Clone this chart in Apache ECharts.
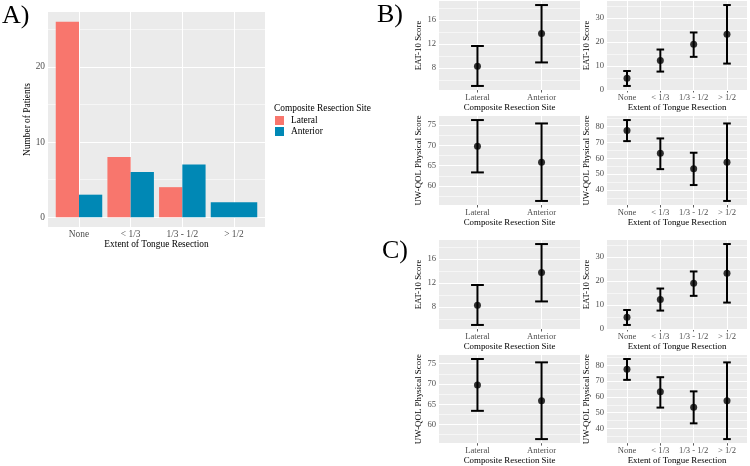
<!DOCTYPE html>
<html>
<head>
<meta charset="utf-8">
<script src="https://cdn.jsdelivr.net/npm/echarts@6/dist/echarts.min.js"></script>
<style>html,body{margin:0;padding:0;background:#fff}#chart{width:750px;height:466px}</style>
</head>
<body>
<div id="chart"></div>
<script>
// ---------- data ----------
const extentCats = ['None', '< 1/3', '1/3 - 1/2', '> 1/2'];
const siteCats = ['Lateral', 'Anterior'];
const seriesNames = ['Lateral', 'Anterior'];

const lateralCounts = [26, 8, 4, null];
const anteriorCounts = [3, 6, 7, 2];
const countTicks = [0, 10, 20];
const countMinor = [5, 15, 25];

const eatSiteMean = [8.34, 13.77];
const eatSiteLow = [5.05, 8.96];
const eatSiteHigh = [11.69, 18.5];
const eatSiteTicks = [8, 12, 16];
const eatSiteMinor = [6, 10, 14, 18];

const eatExtMean = [4.85, 12.26, 19.1, 23.26];
const eatExtLow = [1.67, 7.66, 13.8, 11.0];
const eatExtHigh = [7.9, 16.86, 23.97, 35.4];
const eatExtTicks = [0, 10, 20, 30];
const eatExtMinor = [5, 15, 25, 35];

const uwSiteMean = [69.75, 65.83];
const uwSiteLow = [63.37, 56.4];
const uwSiteHigh = [76.16, 75.33];
const uwSiteTicks = [60, 65, 70, 75];
const uwSiteMinor = [57.5, 62.5, 67.5, 72.5];

const uwExtMean = [77.47, 63.2, 53.4, 57.5];
const uwExtLow = [70.8, 53.2, 43.2, 33.2];
const uwExtHigh = [84.05, 72.5, 63.5, 81.9];
const uwExtTicks = [40, 50, 60, 70, 80];
const uwExtMinor = [35, 45, 55, 65, 75, 85];

// ---------- styling ----------
const FONT = 'Liberation Serif';
const BG = '#EBEBEB';
const TICKCOL = '#4D4D4D';
const colors = ['#F8766D', '#0088B5'];

const grids = [];
const xAxes = [];
const yAxes = [];
const series = [];

function gridLines(gi, xs, ys, yMinor) {
  const data = [];
  ys.forEach(v => data.push({yAxis: v, lineStyle: {width: 1.1}}));
  yMinor.forEach(v => data.push({yAxis: v, lineStyle: {width: 0.55}}));
  xs.forEach(v => data.push({xAxis: v, lineStyle: {width: 1.1}}));
  series.push({
    type: 'line', xAxisIndex: gi, yAxisIndex: gi, data: [], z: 1, silent: true,
    markLine: {
      z: 1, silent: true, symbol: ['none', 'none'], label: {show: false}, animation: false,
      lineStyle: {color: '#FFFFFF', type: 'solid'}, emphasis: {disabled: true},
      data: data
    }
  });
}

function xAxisDef(gi, cats, name, fs, nfs, nameGap) {
  const idx = cats.map((c, i) => i);
  return {
    type: 'value', gridIndex: gi, min: -0.6, max: cats.length - 0.4,
    axisLine: {show: false}, splitLine: {show: false},
    axisTick: {show: true, customValues: idx, length: 2.5, lineStyle: {color: '#333', width: 0.8}},
    axisLabel: {customValues: idx, formatter: v => cats[Math.round(v)], fontFamily: FONT, fontSize: fs, color: TICKCOL, margin: 3},
    name: name, nameLocation: 'middle', nameGap: nameGap,
    nameTextStyle: {fontFamily: FONT, fontSize: nfs, color: '#000'}
  };
}

function yAxisDef(gi, min, max, ticks, name, fs, nfs, nameGap) {
  return {
    type: 'value', gridIndex: gi, min: min, max: max,
    axisLine: {show: false}, splitLine: {show: false},
    axisTick: {show: true, customValues: ticks, length: 2.5, lineStyle: {color: '#333', width: 0.8}},
    axisLabel: {customValues: ticks, fontFamily: FONT, fontSize: fs, color: TICKCOL, margin: 3},
    name: name, nameLocation: 'middle', nameGap: nameGap,
    nameTextStyle: {fontFamily: FONT, fontSize: nfs, color: '#000'}
  };
}

// ---------- Panel A ----------
grids.push({left: 48, top: 12, width: 217, height: 215, show: true, backgroundColor: BG, borderWidth: 0});
{
  const maxC = Math.max(...lateralCounts.filter(v => v != null), ...anteriorCounts);
  const pad = 0.05 * maxC;
  xAxes.push(xAxisDef(0, extentCats, 'Extent of Tongue Resection', 9.4, 9.4, 12));
  yAxes.push(yAxisDef(0, -pad, maxC + pad, countTicks, 'Number of Patients', 9.4, 9.4, 15));
  gridLines(0, extentCats.map((c, i) => i), countTicks, countMinor);
  const all = [lateralCounts, anteriorCounts];
  [0, 1].forEach(which => {
    const arr = all[which];
    const other = all[1 - which];
    series.push({
      type: 'custom', name: seriesNames[which], xAxisIndex: 0, yAxisIndex: 0, z: 10,
      itemStyle: {color: colors[which]},
      encode: {x: 0, y: 1},
      data: arr.map((v, i) => [i, v]).filter(d => d[1] != null),
      renderItem: function (params, api) {
        const i = api.value(0), v = api.value(1);
        const w = 0.9;
        let x0, x1;
        if (other[i] == null) { x0 = i - w / 2; x1 = i + w / 2; }
        else if (which === 0) { x0 = i - w / 2; x1 = i; }
        else { x0 = i; x1 = i + w / 2; }
        const p0 = api.coord([x0, 0]);
        const p1 = api.coord([x1, v]);
        return {type: 'rect', shape: {x: p0[0], y: p1[1], width: p1[0] - p0[0], height: p0[1] - p1[1]},
          style: {fill: colors[which]}};
      }
    });
  });
}

// ---------- Panels B & C ----------
function errorPanel(gi, rect, cats, mean, low, high, ticks, minor, xName, yName) {
  grids.push(Object.assign({show: true, backgroundColor: BG, borderWidth: 0}, rect));
  const lo = Math.min(...low), hi = Math.max(...high);
  const pad = 0.05 * (hi - lo);
  xAxes.push(xAxisDef(gi, cats, xName, 8.6, 8.9, 12));
  yAxes.push(yAxisDef(gi, lo - pad, hi + pad, ticks, yName, 8.6, 8.9, 12));
  gridLines(gi, cats.map((c, i) => i), ticks, minor.filter(v => v > lo - pad && v < hi + pad));
  series.push({
    type: 'custom', xAxisIndex: gi, yAxisIndex: gi, z: 10, silent: true,
    encode: {x: 0, y: [1, 2]},
    data: cats.map((c, i) => [i, low[i], high[i]]),
    renderItem: function (params, api) {
      const x = api.value(0);
      const pl = api.coord([x, api.value(1)]);
      const ph = api.coord([x, api.value(2)]);
      const half = Math.max(api.size([0.2, 0])[0] / 2, 3.8);
      const st = {stroke: '#000', lineWidth: 2, fill: null};
      return {type: 'group', children: [
        {type: 'line', shape: {x1: pl[0], y1: ph[1], x2: pl[0], y2: pl[1]}, style: st},
        {type: 'line', shape: {x1: pl[0] - half, y1: ph[1], x2: pl[0] + half, y2: ph[1]}, style: st},
        {type: 'line', shape: {x1: pl[0] - half, y1: pl[1], x2: pl[0] + half, y2: pl[1]}, style: st}
      ]};
    }
  });
  series.push({
    type: 'scatter', xAxisIndex: gi, yAxisIndex: gi, z: 11, silent: true,
    symbol: 'circle', symbolSize: 7, itemStyle: {color: '#000'},
    data: cats.map((c, i) => [i, mean[i]])
  });
}

const panelSets = [0, 239];
let gi = 1;
panelSets.forEach(dy => {
  errorPanel(gi++, {left: 439, top: 1 + dy, width: 141, height: 89}, siteCats, eatSiteMean, eatSiteLow, eatSiteHigh, eatSiteTicks, eatSiteMinor, 'Composite Resection Site', 'EAT-10 Score');
  errorPanel(gi++, {left: 607, top: 1 + dy, width: 140, height: 89}, extentCats, eatExtMean, eatExtLow, eatExtHigh, eatExtTicks, eatExtMinor, 'Extent of Tongue Resection', 'EAT-10 Score');
  errorPanel(gi++, {left: 439, top: 116 + dy, width: 141, height: 89}, siteCats, uwSiteMean, uwSiteLow, uwSiteHigh, uwSiteTicks, uwSiteMinor, 'Composite Resection Site', 'UW-QOL Physical Score');
  errorPanel(gi++, {left: 607, top: 116 + dy, width: 140, height: 89}, extentCats, uwExtMean, uwExtLow, uwExtHigh, uwExtTicks, uwExtMinor, 'Extent of Tongue Resection', 'UW-QOL Physical Score');
});

const bigLabel = {fontFamily: FONT, fontSize: 26, fontWeight: 'normal', color: '#000'};
const option = {
  animation: false,
  backgroundColor: '#FFFFFF',
  title: [
    {text: 'A)', left: 2, top: 3, padding: 0, textStyle: bigLabel},
    {text: 'B)', left: 377, top: 2, padding: 0, textStyle: bigLabel},
    {text: 'C)', left: 382, top: 238, padding: 0, textStyle: bigLabel},
    {text: 'Composite Resection Site', left: 274, top: 104, padding: 0,
      textStyle: {fontFamily: FONT, fontSize: 9.4, fontWeight: 'normal', color: '#000'}}
  ],
  legend: {
    data: seriesNames, orient: 'vertical', left: 275, top: 116, padding: 0,
    itemWidth: 9, itemHeight: 9, itemGap: 2, icon: 'rect', selectedMode: false,
    textStyle: {fontFamily: FONT, fontSize: 9.4, color: '#000', padding: [0, 0, 0, 2]}
  },
  grid: grids,
  xAxis: xAxes,
  yAxis: yAxes,
  series: series
};
const chart = echarts.init(document.getElementById('chart'), null, {renderer: 'canvas'});
chart.setOption(option);
</script>
</body>
</html>
